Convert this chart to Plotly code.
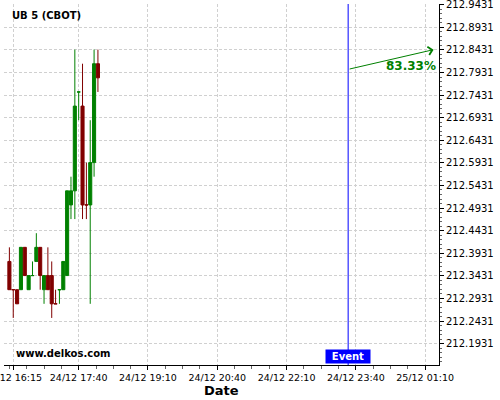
import plotly.graph_objects as go

# ---- data ----
times = ["2019-12-24 16:10", "2019-12-24 16:15", "2019-12-24 16:20", "2019-12-24 16:25",
         "2019-12-24 16:30", "2019-12-24 16:35", "2019-12-24 16:40", "2019-12-24 16:45",
         "2019-12-24 16:50", "2019-12-24 16:55", "2019-12-24 17:00", "2019-12-24 17:05",
         "2019-12-24 17:10", "2019-12-24 17:15", "2019-12-24 17:20", "2019-12-24 17:25",
         "2019-12-24 17:30", "2019-12-24 17:35", "2019-12-24 17:40", "2019-12-24 17:45",
         "2019-12-24 17:50", "2019-12-24 17:55", "2019-12-24 18:00", "2019-12-24 18:05"]
opens = [212.375, 212.3125, 212.3125, 212.3125, 212.40625, 212.3125, 212.34375, 212.375,
         212.40625, 212.3125, 212.34375, 212.34375, 212.28125, 212.3125, 212.3125, 212.34375,
         212.5, 212.53125, 212.75, 212.71875, 212.5, 212.5, 212.59375, 212.8125]
highs = [212.40625, 212.3125, 212.3125, 212.40625, 212.40625, 212.34375, 212.375, 212.4375,
         212.40625, 212.34375, 212.40625, 212.375, 212.3125, 212.3125, 212.375, 212.53125,
         212.5625, 212.84375, 212.75, 212.8125, 212.59375, 212.6875, 212.84375, 212.84375]
lows = [212.3125, 212.25, 212.28125, 212.3125, 212.34375, 212.3125, 212.34375, 212.375,
        212.3125, 212.28125, 212.3125, 212.25, 212.28125, 212.28125, 212.3125, 212.34375,
        212.46875, 212.46875, 212.6875, 212.46875, 212.46875, 212.28125, 212.5625, 212.75]
closes = [212.3125, 212.3125, 212.28125, 212.40625, 212.34375, 212.34375, 212.34375, 212.40625,
          212.34375, 212.34375, 212.3125, 212.28125, 212.28125, 212.3125, 212.375, 212.53125,
          212.53125, 212.71875, 212.75, 212.5, 212.5, 212.59375, 212.8125, 212.78125]
direction = ["down", "down", "down", "up", "down", "up", "up", "up",
             "down", "up", "down", "down", "down", "up", "up", "up",
             "up", "up", "up", "down", "down", "up", "up", "down"]

y_tickvals = [212.1931, 212.2431, 212.2931, 212.3431, 212.3931, 212.4431, 212.4931, 212.5431,
              212.5931, 212.6431, 212.6931, 212.7431, 212.7931, 212.8431, 212.8931, 212.9431]
y_ticktext = ["212.1931", "212.2431", "212.2931", "212.3431", "212.3931", "212.4431", "212.4931",
              "212.5431", "212.5931", "212.6431", "212.6931", "212.7431", "212.7931", "212.8431",
              "212.8931", "212.9431"]
x_tickvals = ["2019-12-24 16:15", "2019-12-24 17:40", "2019-12-24 19:10", "2019-12-24 20:40",
              "2019-12-24 22:10", "2019-12-24 23:40", "2019-12-25 01:10"]
x_ticktext = ["24/12 16:15", "24/12 17:40", "24/12 19:10", "24/12 20:40",
              "24/12 22:10", "24/12 23:40", "25/12 01:10"]

event_time = "2019-12-24 23:30"
arrow_start_price = 212.80
arrow_end_time = "2019-12-25 01:21"
arrow_end_price = 212.8436
probability_text = "83.33%"
title_text = "UB 5 (CBOT)"
watermark = "www.delkos.com"

GREEN = "#008000"
RED = "#800000"
FONT = "DejaVu Sans"

fig = go.Figure()

for dirn, col in (("up", GREEN), ("down", RED)):
    idx = [i for i, d in enumerate(direction) if d == dirn]
    style = dict(line=dict(color=col, width=1), fillcolor=col)
    fig.add_trace(go.Candlestick(
        x=[times[i] for i in idx],
        open=[opens[i] for i in idx],
        high=[highs[i] for i in idx],
        low=[lows[i] for i in idx],
        close=[closes[i] for i in idx],
        increasing=style, decreasing=style,
        showlegend=False, hoverinfo="skip"))

fig.add_shape(type="line", xref="x", yref="paper", x0=event_time, x1=event_time,
              y0=0, y1=1, line=dict(color="#0000ff", width=1))

fig.add_annotation(x=arrow_end_time, y=arrow_end_price, xref="x", yref="y",
                   ax=event_time, ay=arrow_start_price, axref="x", ayref="y",
                   showarrow=True, arrowhead=4, arrowsize=1.6, arrowwidth=1,
                   arrowcolor=GREEN, text="")
fig.add_annotation(x=1, xref="paper", y=arrow_start_price, yref="y", xanchor="right",
                   yanchor="middle", yshift=3, xshift=-1, text=probability_text,
                   showarrow=False, font=dict(family=FONT, size=12, color=GREEN, weight="bold"))
fig.add_annotation(x=event_time, xref="x", y=0, yref="paper", yanchor="bottom", yshift=1,
                   text="Event", showarrow=False, bgcolor="#0000ff", width=44, height=13,
                   borderpad=0, font=dict(family=FONT, size=10, color="white", weight="bold"))
fig.add_annotation(x=0.0138, xref="paper", y=0.9695, yref="paper", xanchor="left",
                   yanchor="middle", text=title_text, showarrow=False,
                   font=dict(family=FONT, size=10, color="black", weight="bold"))
fig.add_annotation(x=0.023, xref="paper", y=0.0305, yref="paper", xanchor="left",
                   yanchor="middle", text=watermark, showarrow=False,
                   font=dict(family=FONT, size=10, color="black", weight="bold"))
fig.add_annotation(x=0.5, xref="paper", y=(365 - 390) / 361, yref="paper", yanchor="middle",
                   text="Date", showarrow=False,
                   font=dict(family=FONT, size=13, color="black", weight="bold"))

grid = dict(showgrid=True, gridcolor="#d0d0d0", gridwidth=1, griddash="3px,2px")

fig.update_layout(
    width=500, height=400,
    margin=dict(l=4, r=61, t=4, b=35, autoexpand=False),
    paper_bgcolor="white", plot_bgcolor="white",
    font=dict(family=FONT, color="black"),
    boxgap=0.2, boxgroupgap=0,
    showlegend=False,
    xaxis=dict(type="date", range=["2019-12-24 16:03", "2019-12-25 01:28"],
               tickvals=x_tickvals, ticktext=x_ticktext, tickfont=dict(size=9.5),
               ticks="outside", ticklen=4, tickcolor="black", automargin=False,
               ticklabeloverflow="allow",
               showline=True, linecolor="black", linewidth=1, mirror=False,
               rangeslider=dict(visible=False), zeroline=False,
               minor=dict(ticks="outside", ticklen=3, tickcolor="#666666",
                          tick0="2019-12-24 17:40", dtick=1350000, showgrid=False),
               **grid),
    yaxis=dict(side="right", range=[212.1459, 212.9446],
               tickvals=y_tickvals, ticktext=y_ticktext, tickfont=dict(size=10),
               ticks="outside", ticklen=4, tickcolor="black", automargin=False,
               ticklabeloverflow="allow",
               showline=True, linecolor="black", linewidth=1, zeroline=False,
               minor=dict(ticks="outside", ticklen=2, tickcolor="#666666",
                          tick0=212.1931, dtick=0.01, showgrid=False),
               **grid),
)

fig.write_html("out.html", config={"displayModeBar": False},
               post_script="document.body.style.margin='0';")
